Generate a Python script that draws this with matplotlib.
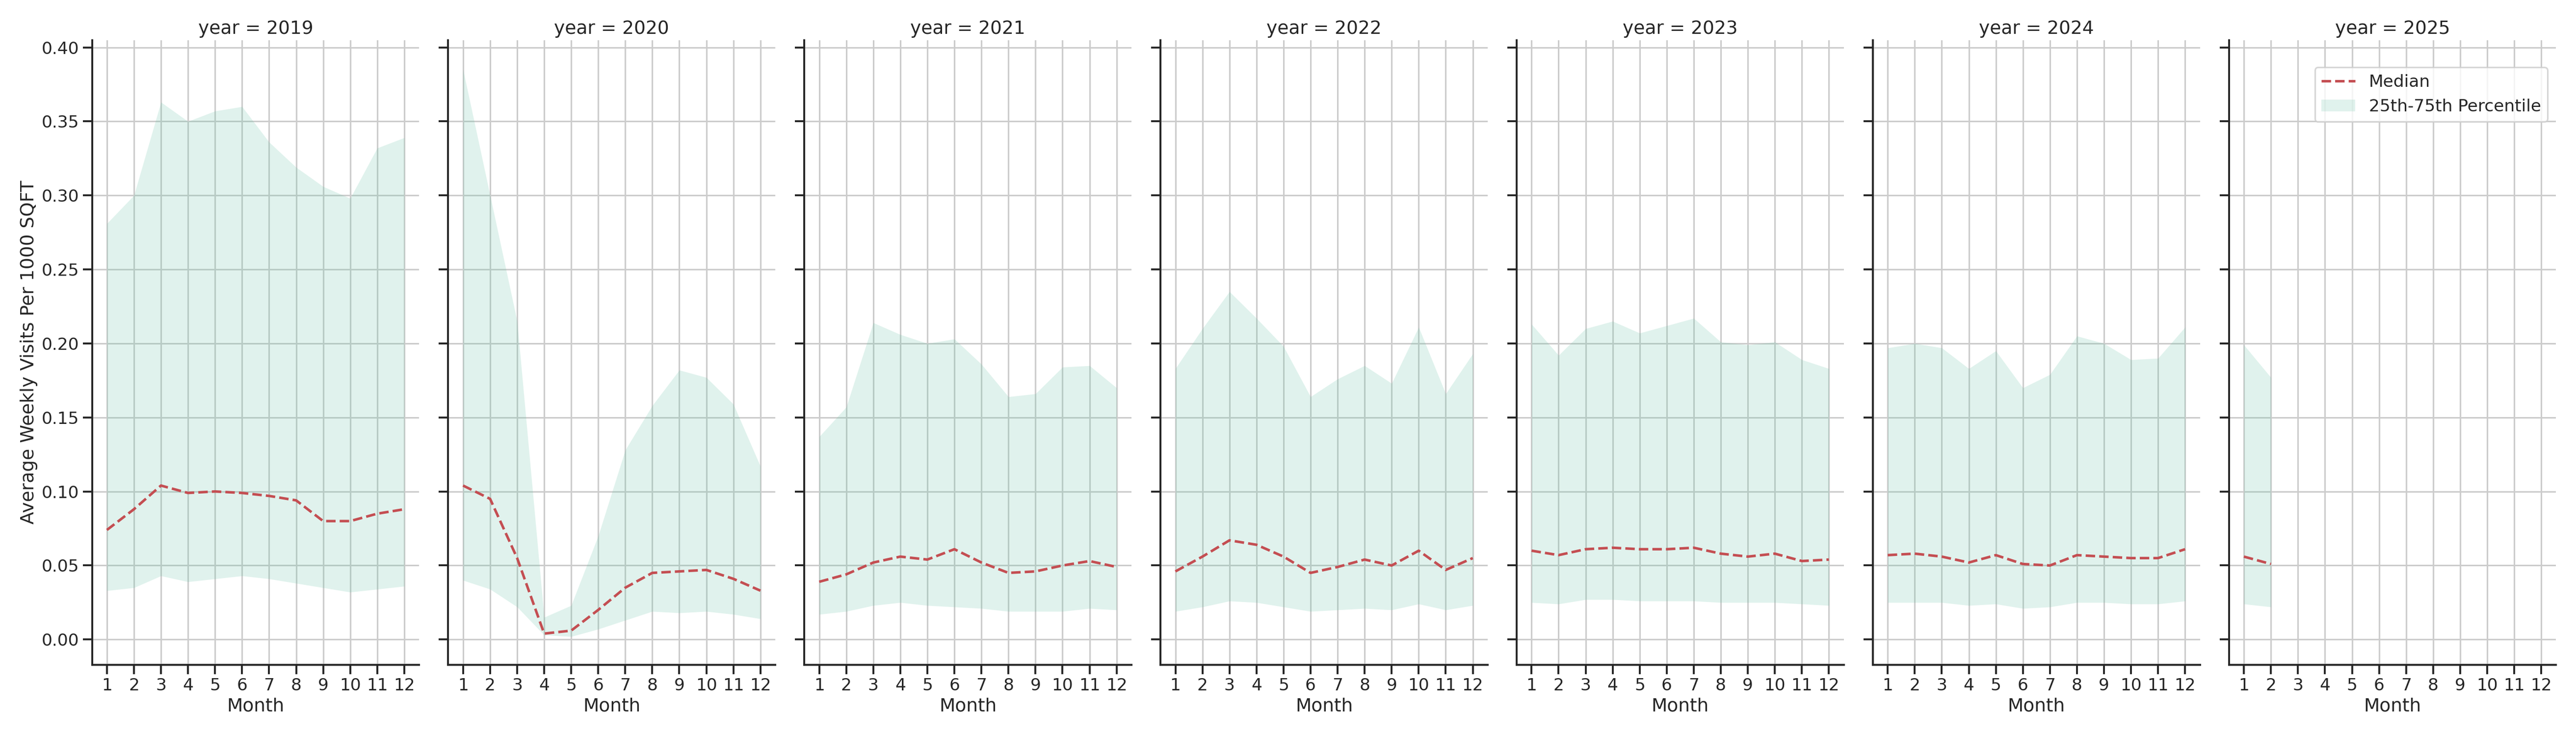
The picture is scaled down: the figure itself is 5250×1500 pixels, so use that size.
import numpy as np
import matplotlib
matplotlib.use('Agg')
import matplotlib.pyplot as plt
import seaborn as sns

sns.set_theme(style="ticks", context="talk")

years = [2019, 2020, 2021, 2022, 2023, 2024, 2025]

median_2019 = [0.074, 0.088, 0.104, 0.099, 0.100, 0.099, 0.097, 0.094, 0.080, 0.080, 0.085, 0.088]
q25_2019 = [0.033, 0.035, 0.043, 0.039, 0.041, 0.043, 0.041, 0.038, 0.035, 0.032, 0.034, 0.036]
q75_2019 = [0.281, 0.300, 0.363, 0.350, 0.357, 0.360, 0.336, 0.319, 0.306, 0.298, 0.332, 0.339]

median_2020 = [0.104, 0.095, 0.055, 0.004, 0.006, 0.020, 0.035, 0.045, 0.046, 0.047, 0.041, 0.033]
q25_2020 = [0.040, 0.034, 0.022, 0.003, 0.002, 0.007, 0.013, 0.019, 0.018, 0.019, 0.017, 0.014]
q75_2020 = [0.385, 0.300, 0.215, 0.015, 0.023, 0.070, 0.128, 0.158, 0.182, 0.177, 0.159, 0.117]

median_2021 = [0.039, 0.044, 0.052, 0.056, 0.054, 0.061, 0.052, 0.045, 0.046, 0.050, 0.053, 0.049]
q25_2021 = [0.017, 0.019, 0.023, 0.025, 0.023, 0.022, 0.021, 0.019, 0.019, 0.019, 0.021, 0.020]
q75_2021 = [0.137, 0.157, 0.214, 0.206, 0.200, 0.203, 0.186, 0.164, 0.166, 0.184, 0.185, 0.170]

median_2022 = [0.046, 0.056, 0.067, 0.064, 0.056, 0.045, 0.049, 0.054, 0.050, 0.060, 0.047, 0.055]
q25_2022 = [0.019, 0.022, 0.026, 0.025, 0.022, 0.019, 0.020, 0.021, 0.020, 0.024, 0.020, 0.023]
q75_2022 = [0.183, 0.210, 0.235, 0.217, 0.198, 0.164, 0.176, 0.185, 0.173, 0.211, 0.166, 0.193]

median_2023 = [0.060, 0.057, 0.061, 0.062, 0.061, 0.061, 0.062, 0.058, 0.056, 0.058, 0.053, 0.054]
q25_2023 = [0.025, 0.024, 0.027, 0.027, 0.026, 0.026, 0.026, 0.025, 0.025, 0.025, 0.024, 0.023]
q75_2023 = [0.213, 0.192, 0.210, 0.215, 0.207, 0.212, 0.217, 0.201, 0.199, 0.201, 0.189, 0.183]

median_2024 = [0.057, 0.058, 0.056, 0.052, 0.057, 0.051, 0.050, 0.057, 0.056, 0.055, 0.055, 0.061]
q25_2024 = [0.025, 0.025, 0.025, 0.023, 0.024, 0.021, 0.022, 0.025, 0.025, 0.024, 0.024, 0.026]
q75_2024 = [0.197, 0.200, 0.197, 0.183, 0.195, 0.170, 0.179, 0.205, 0.200, 0.189, 0.190, 0.211]

median_2025 = [0.056, 0.051]
q25_2025 = [0.024, 0.022]
q75_2025 = [0.199, 0.177]

medians = [median_2019, median_2020, median_2021, median_2022, median_2023, median_2024, median_2025]
q25s = [q25_2019, q25_2020, q25_2021, q25_2022, q25_2023, q25_2024, q25_2025]
q75s = [q75_2019, q75_2020, q75_2021, q75_2022, q75_2023, q75_2024, q75_2025]

fig, axes = plt.subplots(1, 7, figsize=(35, 10), sharey=True)

for i, ax in enumerate(axes):
    months = np.arange(1, len(medians[i]) + 1)
    ax.fill_between(months, q25s[i], q75s[i], color='#66c2a5', alpha=0.2, lw=0,
                    label='25th-75th Percentile')
    ax.plot(months, medians[i], color='#c44e52', ls='--', lw=2.5, label='Median')
    ax.set_title(f'year = {years[i]}')
    ax.set_xlabel('Month')
    ax.set_xticks(range(1, 13))
    ax.set_xlim(0.45, 12.55)
    ax.grid(True, color='#cccccc', lw=1.5)
    ax.set_axisbelow(True)
    sns.despine(ax=ax)

axes[0].set_ylim(-0.017, 0.405)
axes[0].set_yticks(np.arange(0, 0.41, 0.05))
axes[0].set_ylabel('Average Weekly Visits Per 1000 SQFT')

h, l = axes[-1].get_legend_handles_labels()
axes[-1].legend(h[::-1], l[::-1], loc='upper right', bbox_to_anchor=(1.0, 0.97))

plt.tight_layout()
plt.savefig('out.png', dpi=150)
